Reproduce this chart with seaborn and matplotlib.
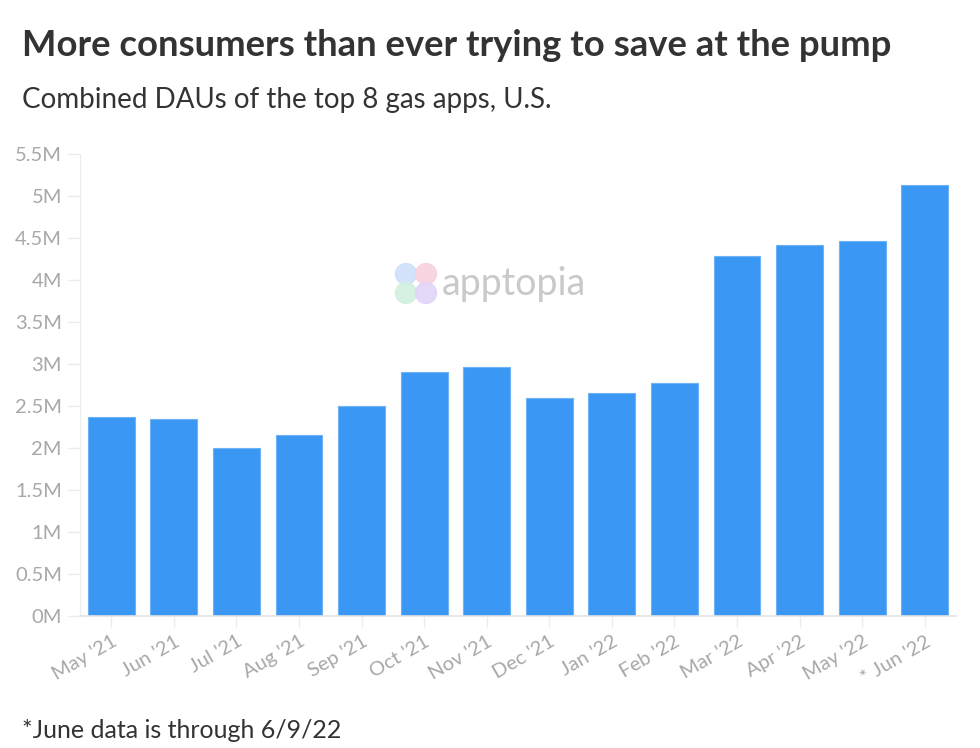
import numpy as np
import pandas as pd
import seaborn as sns
import matplotlib.pyplot as plt
from matplotlib.patches import Ellipse
from matplotlib.ticker import FuncFormatter

months = ["May '21", "Jun '21", "Jul '21", "Aug '21", "Sep '21", "Oct '21", "Nov '21",
          "Dec '21", "Jan '22", "Feb '22", "Mar '22", "Apr '22", "May '22", "* Jun '22"]
dau_millions = [2.37, 2.34, 2.00, 2.16, 2.50, 2.91, 2.97,
                2.60, 2.66, 2.77, 4.29, 4.42, 4.46, 5.13]
y_ticks = [0, 0.5, 1, 1.5, 2, 2.5, 3, 3.5, 4, 4.5, 5, 5.5]

df = pd.DataFrame({'month': months, 'dau': dau_millions})

sns.set_style('white')
plt.rcParams['font.family'] = ['Lato', 'DejaVu Sans']

fig = plt.figure(figsize=(9.8, 7.48), dpi=100)
ax = fig.add_axes([80 / 980, 1 - 616 / 748, 876 / 980, 462 / 748])

sns.barplot(data=df, x='month', y='dau', color='#3a97f3', width=0.75,
            edgecolor='#6cb2f5', linewidth=0.8, saturation=1, ax=ax)

ax.set_ylim(0, 5.5)
ax.set_xlim(-0.5, len(months) - 0.5)
ax.set_yticks(y_ticks)
ax.yaxis.set_major_formatter(FuncFormatter(lambda v, p: f"{v:g}M"))
ax.set_xlabel('')
ax.set_ylabel('')

grey = '#a8a8a8'
ax.tick_params(axis='y', length=9, width=1, color='#ececec', labelsize=14.5,
               labelcolor=grey, pad=4, left=True)
ax.tick_params(axis='x', length=8, width=1, color='#ececec', labelsize=14.5,
               labelcolor=grey, pad=4, bottom=True)
for lbl in ax.get_xticklabels():
    lbl.set_rotation(30)
    lbl.set_ha('right')
    lbl.set_rotation_mode('anchor')

sns.despine(ax=ax, top=True, right=True)
ax.spines['left'].set_color('#ececec')
ax.spines['bottom'].set_color('#e3e3e3')
ax.spines['bottom'].set_linewidth(1.2)

fig.text(22 / 980, 1 - 45 / 748, 'More consumers than ever trying to save at the pump',
         fontsize=26.3, fontweight='bold', color='#333333', va='center')
fig.text(22 / 980, 1 - 100 / 748, 'Combined DAUs of the top 8 gas apps, U.S.',
         fontsize=20, color='#333333', va='center')
fig.text(22 / 980, 1 - 730 / 748, '*June data is through 6/9/22',
         fontsize=18, color='#333333', va='center')

# apptopia watermark
blobs = [(406, 274, '#cde0fb'), (426, 274, '#f8d2de'),
         (406, 293, '#d2efdf'), (426, 293, '#e2d5f8')]
for bx, by, bc in blobs:
    fig.add_artist(Ellipse((bx / 980, 1 - by / 748), 21 / 980, 21 / 748,
                           color=bc, alpha=0.9, zorder=5))
fig.text(442 / 980, 1 - 284 / 748, 'apptopia', fontsize=27, color='#c9c9c9',
         va='center', ha='left', zorder=5)

fig.savefig('out.png', dpi=100)
